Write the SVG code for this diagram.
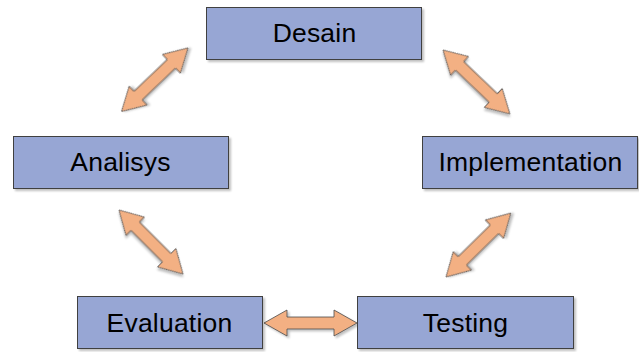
<svg xmlns="http://www.w3.org/2000/svg" width="639" height="352" viewBox="0 0 639 352">
<defs>
<style>
.box{fill:#97A6D4;stroke:#3F3F3F;stroke-width:1}
.lbl{font-family:"Liberation Sans",Arial,sans-serif;font-size:26.5px;fill:#000;text-anchor:middle;letter-spacing:0.2px}
.arr{fill:#F3B083;stroke:#4A4A4A;stroke-width:0.8;stroke-linejoin:miter}
</style>
<filter id="sh" x="-10%" y="-10%" width="130%" height="130%">
<feGaussianBlur in="SourceAlpha" stdDeviation="1.2"/>
<feOffset dx="2" dy="2" result="b"/>
<feComponentTransfer><feFuncA type="linear" slope="0.25"/></feComponentTransfer>
<feMerge><feMergeNode/><feMergeNode in="SourceGraphic"/></feMerge>
</filter>
</defs>
<rect width="639" height="352" fill="#fff"/>
<g id="connectors">
<path class="arr" filter="url(#sh)" transform="translate(121.5,111.5) rotate(-43.7)" d="M0,0 L23,-13 L23,-6 L69,-6 L69,-13 L92,0 L69,13 L69,6 L23,6 L23,13 Z"/>
<path class="arr" filter="url(#sh)" transform="translate(443,50) rotate(43.7)" d="M0,0 L23,-13 L23,-6 L69.5,-6 L69.5,-13 L92.5,0 L69.5,13 L69.5,6 L23,6 L23,13 Z"/>
<path class="arr" filter="url(#sh)" transform="translate(446,277) rotate(-44.6)" d="M0,0 L23,-13 L23,-6 L68,-6 L68,-13 L91,0 L68,13 L68,6 L23,6 L23,13 Z"/>
<path class="arr" filter="url(#sh)" transform="translate(119,210) rotate(45)" d="M0,0 L23,-13 L23,-6 L67.5,-6 L67.5,-13 L90.5,0 L67.5,13 L67.5,6 L23,6 L23,13 Z"/>
<path class="arr" filter="url(#sh)" transform="translate(264,323)" d="M0,0 L23,-13 L23,-6 L70,-6 L70,-13 L93,0 L70,13 L70,6 L23,6 L23,13 Z"/>
</g>
<g id="desain">
<rect class="box" filter="url(#sh)" x="206.5" y="7.5" width="215" height="52"/>
<text class="lbl" x="314.5" y="42">Desain</text>
</g>
<g id="analisys">
<rect class="box" filter="url(#sh)" x="13.5" y="136.5" width="215" height="52"/>
<text class="lbl" x="120.5" y="171">Analisys</text>
</g>
<g id="implementation">
<rect class="box" filter="url(#sh)" x="422.5" y="136.5" width="215" height="52"/>
<text class="lbl" x="530.5" y="171">Implementation</text>
</g>
<g id="evaluation">
<rect class="box" filter="url(#sh)" x="77.5" y="296.5" width="185" height="52"/>
<text class="lbl" x="169.5" y="332">Evaluation</text>
</g>
<g id="testing">
<rect class="box" filter="url(#sh)" x="357.5" y="296.5" width="216" height="52"/>
<text class="lbl" x="465.5" y="332">Testing</text>
</g>
</svg>
